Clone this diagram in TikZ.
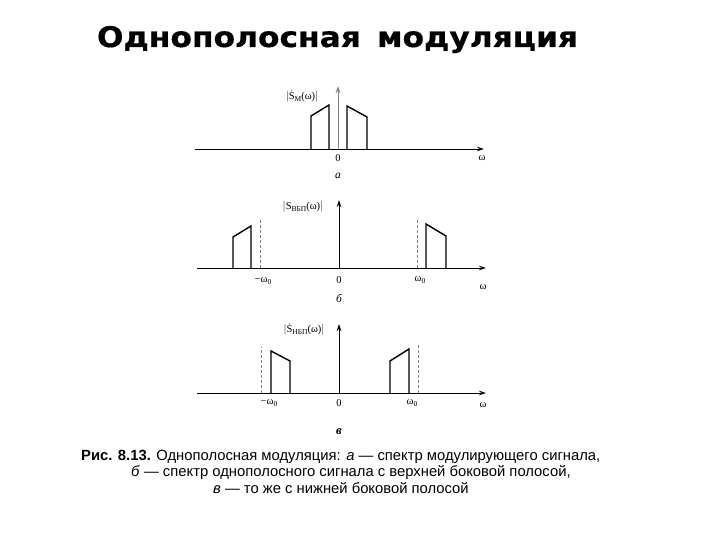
\documentclass[tikz,border=0pt]{standalone}
\usepackage{fontspec}
\setmainfont{Liberation Serif}
\newfontfamily\capfont{Liberation Sans}
\newfontfamily\titlefont{DejaVu Sans Bold}[FakeBold=0.6]
\usetikzlibrary{arrows.meta}
\tikzset{
  axis/.style={line width=0.8pt, -{Stealth[length=7pt,width=4.5pt]}},
  band/.style={line width=1.4pt, line join=miter},
  carrier/.style={gray, line width=0.6pt, dash pattern=on 3pt off 2pt},
  lbl/.style={font=\fontsize{10.5}{12}\selectfont, inner sep=0pt},
  panel/.style={font=\fontsize{11.5}{13}\selectfont\itshape, inner sep=0pt},
  captext/.style={font=\capfont\fontsize{14.8}{16}\selectfont, inner sep=0pt, anchor=base west},
}
\newcommand{\subsc}[1]{\raisebox{-0.35ex}{\fontsize{7.5}{8}\selectfont #1}}
\begin{document}
\begin{tikzpicture}[x=1pt,y=-1pt]
\useasboundingbox (0,0) rectangle (720,540);
\fill[white] (0,0) rectangle (720,540);
% title
\node[inner sep=0pt, anchor=base] (title) at (337.5,47) {\resizebox{481pt}{21pt}{\titlefont Однополосная\, модуляция}};
% ---------- panel a ----------
\coordinate (a0) at (195,149); \coordinate (a1) at (484,149);
\coordinate (ay0) at (338,149); \coordinate (ay1) at (338,86);
\draw[axis] (a0) -- (a1);
\draw[axis, gray] (ay0) -- (ay1);
\draw[band] (311,149) -- (311,116) -- (329,105) -- (329,149);
\draw[band] (347,149) -- (347,106) -- (367,117) -- (367,149);
\node[lbl] (la) at (302,97) {$|$Ṡ\subsc{М}(ω)$|$};
\node[lbl] (za) at (338,158) {0};
\node[lbl] (wa) at (482,158) {ω};
\node[panel] (na) at (338,176) {а};
% ---------- panel b ----------
\coordinate (b0) at (197,268); \coordinate (b1) at (486,268);
\coordinate (by0) at (339,268); \coordinate (by1) at (339,200);
\draw[axis] (b0) -- (b1);
\draw[axis] (by0) -- (by1);
\draw[carrier] (260,268) -- (260,220);
\draw[carrier] (417,268) -- (417,218);
\draw[band] (233,268) -- (233,237) -- (251,226) -- (251,268);
\draw[band] (426,268) -- (426,224) -- (446,236) -- (446,268);
\node[lbl] (lb) at (303,207) {$|$S\subsc{ВБП}(ω)$|$};
\node[lbl] (mb) at (263,281) {−ω\subsc{0}};
\node[lbl] (zb) at (339,280) {0};
\node[lbl] (pb) at (420,280) {ω\subsc{0}};
\node[lbl] (wb) at (483,287) {ω};
\node[panel] (nb) at (339,298) {б};
% ---------- panel v ----------
\coordinate (c0) at (197,393); \coordinate (c1) at (486,393);
\coordinate (cy0) at (339,393); \coordinate (cy1) at (339,324);
\draw[axis] (c0) -- (c1);
\draw[axis] (cy0) -- (cy1);
\draw[carrier] (261,393) -- (261,347);
\draw[carrier] (418,393) -- (418,343);
\draw[band] (271,393) -- (271,351) -- (290,361) -- (290,393);
\draw[band] (390,393) -- (390,361) -- (409,349) -- (409,393);
\node[lbl] (lc) at (304,330) {$|$Ṡ\subsc{НБП}(ω)$|$};
\node[lbl] (mc) at (269,403) {−ω\subsc{0}};
\node[lbl] (zc) at (339,403) {0};
\node[lbl] (pc) at (412,403) {ω\subsc{0}};
\node[lbl] (wc) at (483,405) {ω};
\node[panel, font=\fontsize{12.5}{14}\selectfont\bfseries\itshape] (nc) at (339,432) {в};
% ---------- caption ----------
\node[captext] (cap1) at (81,460) {\textbf{Рис. 8.13.} Однополосная модуляция: \textit{а} — спектр модулирующего сигнала,};
\node[captext] (cap2) at (131,476) {\textit{б} — спектр однополосного сигнала с верхней боковой полосой,};
\node[captext] (cap3) at (213,493) {\textit{в} — то же с нижней боковой полосой};
\end{tikzpicture}
\end{document}
